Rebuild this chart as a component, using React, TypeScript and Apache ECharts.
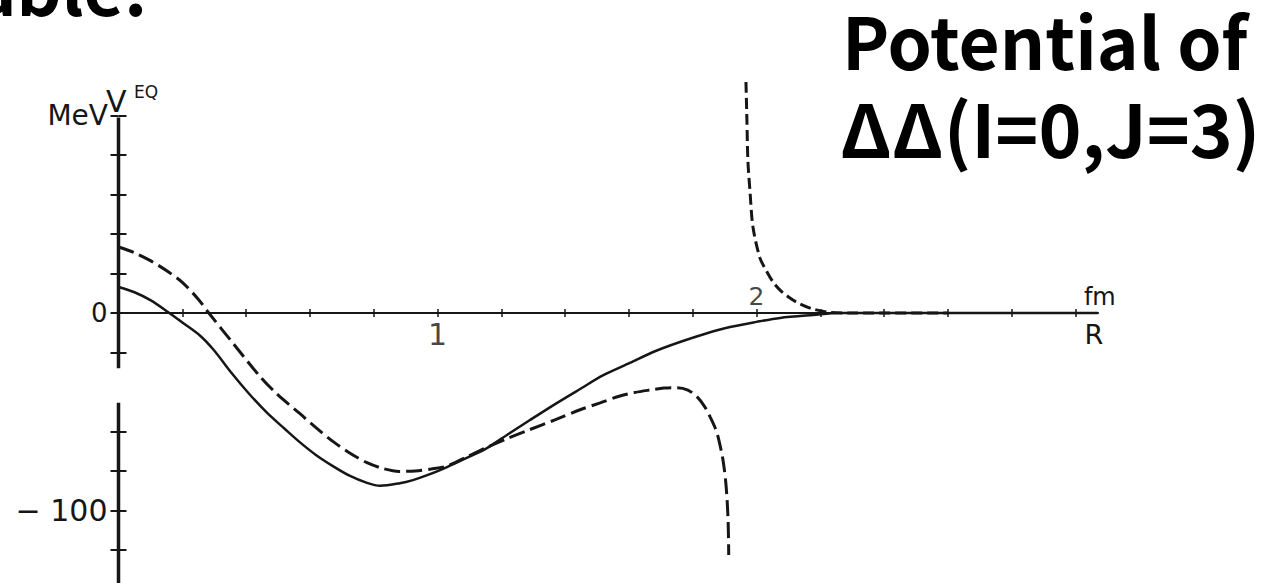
import React, { useEffect, useRef } from "react";
import * as echarts from "echarts";

// Equivalent-local potential V (MeV) against separation R (fm)
const solidR = [0, 0.05, 0.1, 0.155, 0.2, 0.256, 0.3, 0.35, 0.41, 0.466, 0.52, 0.569, 0.62, 0.672, 0.726, 0.779, 0.82, 0.882, 0.923, 0.97, 1.03, 1.09, 1.155, 1.22, 1.29, 1.37, 1.447, 1.52, 1.603, 1.68, 1.76, 1.84, 1.917, 2.0, 2.074, 2.178, 2.26, 3.07];
const solidV = [13.2, 10.5, 6.5, 0.5, -4.8, -11.5, -19, -29.5, -41, -50.6, -58.5, -65.5, -72, -77.5, -82.5, -86, -87.5, -86.2, -84.6, -82, -78, -73.5, -68.4, -61.5, -54.2, -46, -38.5, -31.5, -25.3, -19.5, -14.7, -10.5, -7.1, -4.5, -2.5, -1, 0, 0];

const dashedR = [0, 0.05, 0.1, 0.15, 0.2, 0.25, 0.283, 0.36, 0.443, 0.5, 0.569, 0.62, 0.672, 0.726, 0.779, 0.83, 0.88, 0.93, 0.98, 1.03, 1.09, 1.155, 1.22, 1.29, 1.37, 1.447, 1.51, 1.572, 1.62, 1.666, 1.71, 1.751, 1.785, 1.814, 1.838, 1.855, 1.87, 1.88, 1.895, 1.905, 1.911, 1.913];
const dashedV = [33.4, 30.5, 26.5, 21.5, 15.5, 7, 0, -15.5, -32, -41.5, -51, -58.2, -65, -71, -75.8, -78.8, -80.2, -80, -79, -77.5, -73, -68, -63.5, -59, -54, -49, -45.5, -42, -40.2, -39, -38, -37.8, -39, -42.5, -47.5, -52.7, -58, -63, -74.4, -88, -105, -122.5];

const branchR = [1.967, 1.97, 1.973, 1.98, 1.989, 2.011, 2.033, 2.052, 2.074, 2.105, 2.136, 2.177, 2.23, 2.29, 2.6];
const branchV = [117, 97.7, 77.5, 60.8, 43.5, 27.8, 20.8, 15.7, 11.6, 7.6, 4.6, 2, 0.3, 0, 0];

// Vertical axis line, broken between -28 and -45.5 MeV
const vAxisUpper = [99, -28];
const vAxisLower = [-45.5, -140];

const rTicks = [0.2, 0.4, 0.6, 0.8, 1.0, 1.2, 1.4, 1.6, 1.8, 2.0, 2.2, 2.4, 2.6, 2.8, 3.0];
const rLabelsBelow = [1];
const rLabelsAbove = [2];
const vTicks = [100, 80, 60, 40, 20, 0, -20, -60, -80, -100, -120];
const vLabels = [0, -100];

const titleLines = ["Potential of", "ΔΔ(I=0,J=3)"];
const cornerText = "stable.";

const INK = "#161616";
const FONT = "'DejaVu Sans', sans-serif";
const TITLE_FONT = "'Noto Sans CJK JP', 'Noto Sans', sans-serif";

const pairs = (xs: number[], ys: number[]) => xs.map((x, i) => [x, ys[i]]);

export default function App() {
  const ref = useRef<HTMLDivElement>(null);

  useEffect(() => {
    if (!ref.current) return;
    const chart = echarts.init(ref.current, undefined, { renderer: "svg" });

    const xBase = {
      type: "value" as const,
      min: 0,
      max: 3.07,
      splitLine: { show: false },
      axisLabel: { show: false },
    };
    const yBase = {
      type: "value" as const,
      min: -140,
      max: 100,
      interval: 20,
      position: "left" as const,
      splitLine: { show: false },
    };

    const vAxisData = [
      [0, vAxisUpper[0]],
      [0, vAxisUpper[1]],
      [0, "-"],
      [0, vAxisLower[0]],
      [0, vAxisLower[1]],
    ];

    const tickLabel = (values: number[], position: "top" | "bottom", size: number, distance: number) => ({
      type: "scatter",
      data: values.map((v) => [v, 0]),
      symbolSize: 0,
      silent: true,
      label: {
        show: true,
        position,
        distance,
        formatter: (p: any) => String(p.value[0]),
        fontFamily: FONT,
        fontSize: size,
        color: INK,
      },
    });

    chart.setOption({
      animation: false,
      backgroundColor: "#ffffff",
      grid: { left: 118.5, top: 115.5, width: 979.3, height: 474, outerBoundsMode: "none", containLabel: false },
      xAxis: [
        {
          ...xBase,
          position: "bottom",
          axisLine: { onZero: true, onZeroAxisIndex: 0, lineStyle: { color: INK, width: 2 } },
          axisTick: { show: true, customValues: rTicks, length: 4, lineStyle: { color: INK, width: 1.5 } },
          name: "R",
          nameLocation: "end",
          nameGap: -4,
          nameTextStyle: {
            fontFamily: FONT,
            fontSize: 27,
            color: INK,
            align: "center",
            verticalAlign: "top",
            padding: [8, 0, 0, 0],
          },
        },
        {
          ...xBase,
          position: "top",
          axisLine: { onZero: true, onZeroAxisIndex: 1, lineStyle: { color: INK, width: 2 } },
          axisTick: { show: true, customValues: rTicks, length: 4, lineStyle: { color: INK, width: 1.5 } },
          name: "fm",
          nameLocation: "end",
          nameGap: 2,
          nameTextStyle: {
            fontFamily: FONT,
            fontSize: 24,
            color: INK,
            align: "center",
            verticalAlign: "bottom",
            padding: [0, 0, 4, 0],
          },
        },
      ],
      yAxis: [
        {
          ...yBase,
          axisLine: { show: false, onZero: true, onZeroAxisIndex: 0 },
          axisTick: { show: true, customValues: vTicks, length: 8, lineStyle: { color: INK, width: 2 } },
          axisLabel: {
            customValues: vLabels,
            formatter: (v: number) => (v === 0 ? "{z|0}" : "{h|− " + String(Math.abs(v)) + "}"),
            margin: 11,
            color: INK,
            rich: {
              z: { fontFamily: FONT, fontSize: 26, color: INK },
              h: { fontFamily: FONT, fontSize: 30, color: INK },
            },
          },
        },
        {
          ...yBase,
          axisLine: { show: false, onZero: true, onZeroAxisIndex: 1 },
          axisTick: { show: true, inside: true, customValues: vTicks, length: 8, lineStyle: { color: INK, width: 2 } },
          axisLabel: { show: false },
        },
      ],
      series: [
        {
          name: "V-axis",
          type: "line",
          data: vAxisData,
          showSymbol: false,
          silent: true,
          connectNulls: false,
          lineStyle: { color: INK, width: 3.5 },
        },
        {
          name: "solid",
          type: "line",
          data: pairs(solidR, solidV),
          showSymbol: false,
          smooth: 0.3,
          silent: true,
          lineStyle: { color: INK, width: 2.5 },
        },
        {
          name: "dashed",
          type: "line",
          data: pairs(dashedR, dashedV),
          showSymbol: false,
          smooth: 0.3,
          silent: true,
          lineStyle: { color: INK, width: 3, type: [16, 6] },
        },
        {
          name: "dashed-repulsive",
          type: "line",
          data: pairs(branchR, branchV),
          showSymbol: false,
          smooth: 0.3,
          silent: true,
          clip: false,
          lineStyle: { color: INK, width: 3, type: [11, 5] },
        },
        tickLabel(rLabelsBelow, "bottom", 30, 6),
        tickLabel(rLabelsAbove, "top", 25, 4),
      ],
      graphic: [
        {
          type: "text",
          style: { text: "MeV", x: 108, y: 115, textAlign: "right", align: "right", textVerticalAlign: "middle", verticalAlign: "middle", fontFamily: FONT, fontSize: 28, fill: INK },
        },
        {
          type: "text",
          style: { text: "V", x: 106, y: 101, textAlign: "left", align: "left", textVerticalAlign: "middle", verticalAlign: "middle", fontFamily: FONT, fontSize: 30, fill: INK },
        },
        {
          type: "text",
          style: { text: "EQ", x: 134, y: 92, textAlign: "left", align: "left", textVerticalAlign: "middle", verticalAlign: "middle", fontFamily: FONT, fontSize: 17, fill: INK },
        },
        {
          type: "text",
          style: { text: titleLines[0], x: 842, y: 39, textAlign: "left", align: "left", textVerticalAlign: "middle", verticalAlign: "middle", fontFamily: TITLE_FONT, fontWeight: "bold", fontSize: 71, fill: "#000" },
        },
        {
          type: "text",
          style: { text: titleLines[1], x: 840, y: 126, textAlign: "left", align: "left", textVerticalAlign: "middle", verticalAlign: "middle", fontFamily: TITLE_FONT, fontWeight: "bold", fontSize: 73, fill: "#000" },
        },
        {
          type: "text",
          style: { text: cornerText, x: 147, y: -15, textAlign: "right", align: "right", textVerticalAlign: "middle", verticalAlign: "middle", fontFamily: TITLE_FONT, fontWeight: "bold", fontSize: 70, fill: "#000" },
        },
      ],
    });

    return () => chart.dispose();
  }, []);

  return (
    <div
      ref={ref}
      style={{ position: "absolute", left: 0, top: 0, width: 1286, height: 583, background: "#fff" }}
    />
  );
}
